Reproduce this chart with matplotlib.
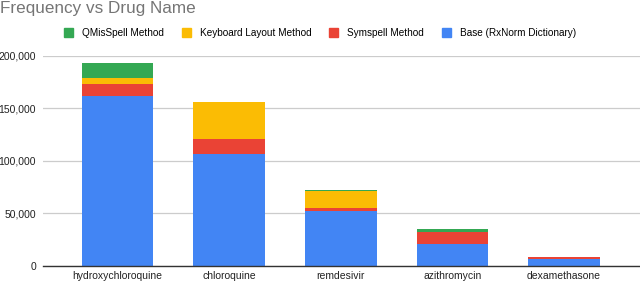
import numpy as np
import matplotlib
matplotlib.use("Agg")
import matplotlib.pyplot as plt
from matplotlib.patches import Patch
from matplotlib.ticker import FuncFormatter

plt.rcParams['font.family'] = ['Liberation Sans', 'DejaVu Sans']

drugs = ['hydroxychloroquine', 'chloroquine', 'remdesivir', 'azithromycin', 'dexamethasone']
base = [162000, 106500, 52000, 20700, 6500]
symspell = [11200, 14600, 2900, 11100, 1500]
keyboard = [6000, 34400, 15800, 500, 0]
qmis = [13800, 0, 1400, 2400, 0]

series = [
    ('Base (RxNorm Dictionary)', base, '#4285f4'),
    ('Symspell Method', symspell, '#ea4335'),
    ('Keyboard Layout Method', keyboard, '#fbbc04'),
    ('QMisSpell Method', qmis, '#34a853'),
]

fig = plt.figure(figsize=(6.4, 2.83), dpi=100)
ax = fig.add_axes([43 / 640, 0.0611, 597 / 640, 0.7421])

x = np.arange(len(drugs))
bottom = np.zeros(len(drugs))
for name, vals, col in series:
    ax.bar(x, vals, bottom=bottom, width=0.642, color=col, zorder=3)
    bottom += np.array(vals)

ax.set_xlim(-0.668, 4.68)
ax.set_ylim(0, 200000)
ax.set_yticks([0, 50000, 100000, 150000, 200000])
ax.yaxis.set_major_formatter(FuncFormatter(lambda v, p: f'{int(v):,}'))
ax.set_xticks(x)
ax.set_xticklabels(drugs)
ax.tick_params(axis='both', length=0, labelsize=7.5, colors='#222222')
ax.tick_params(axis='x', pad=4)
ax.tick_params(axis='y', pad=5)
ax.grid(axis='y', color='#cccccc', linewidth=0.9, zorder=0)
for s in ['top', 'right', 'left']:
    ax.spines[s].set_visible(False)
ax.spines['bottom'].set_color('#333333')
ax.spines['bottom'].set_linewidth(1.0)
ax.spines['bottom'].set_zorder(4)

fig.text(0.0, 1 - 12.7 / 283, 'Frequency vs Drug Name', fontsize=12.3, color='#757575',
         va='baseline', ha='left')

handles = [Patch(color=c, label=n) for n, _, c in series[::-1]]
fig.legend(handles=handles, loc='center', bbox_to_anchor=(0.5, 1 - 33 / 283), ncol=4,
           frameon=False, fontsize=7.2, handlelength=0.9, handleheight=0.9,
           handletextpad=0.9, columnspacing=1.8)

fig.savefig('out.png', dpi=100)
